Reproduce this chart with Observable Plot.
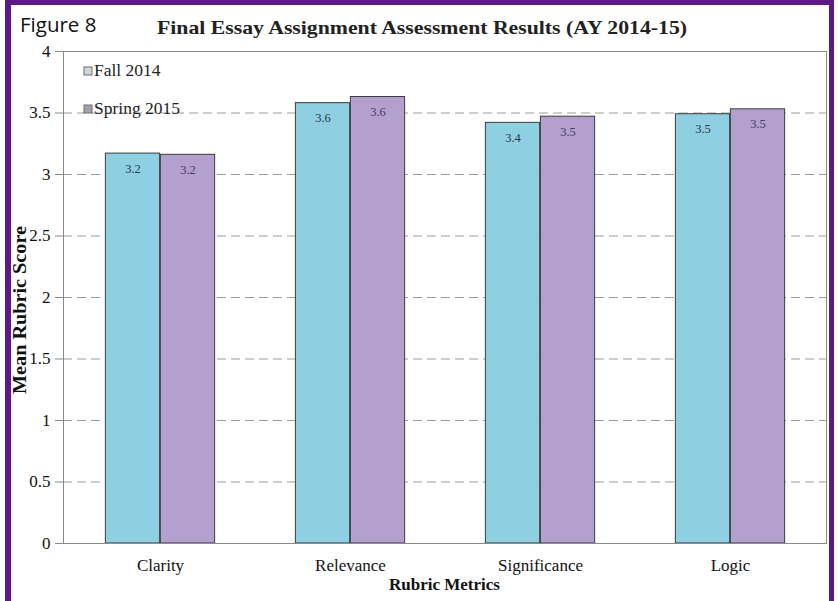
<!DOCTYPE html>
<html>
<head>
<meta charset="utf-8">
<script src="https://cdn.jsdelivr.net/npm/d3@7"></script>
<script src="https://cdn.jsdelivr.net/npm/@observablehq/plot@0.6"></script>
<style>
  html, body { margin: 0; padding: 0; background: #ffffff; }
  #wrap { position: relative; width: 838px; height: 601px; overflow: hidden; }
  #chart svg { display: block; }
  #border {
    position: absolute; left: 5px; top: 0; width: 818px; height: 660px;
    border-left: 6px solid #5e1987; border-top: 5px solid #5e1987; border-right: 5px solid #5e1987;
    pointer-events: none;
  }
  g[aria-label="y-axis tick"] path { stroke: #8a8a8a; }
</style>
</head>
<body>
<div id="wrap">
  <div id="chart"></div>
  <div id="border"></div>
</div>
<script>
// Mean rubric scores per metric, for each term
const categories = ["Clarity", "Relevance", "Significance", "Logic"];
const fall2014 = [3.17, 3.58, 3.42, 3.49];
const spring2015 = [3.16, 3.63, 3.47, 3.53];
const seriesNames = ["Fall 2014", "Spring 2015"];
const seriesColors = ["#8ecfe1", "#b3a0cf"];
const swatchColors = ["#cdd6da", "#a49fac"];
const yTicks = [0, 0.5, 1, 1.5, 2, 2.5, 3, 3.5, 4];

const figureLabel = "Figure 8";
const titleText = "Final Essay Assignment Assessment Results (AY 2014-15)";
const xTitle = "Rubric Metrics";
const yTitle = "Mean Rubric Score";

const fallRows = categories.map((c, i) => ({metric: c, term: seriesNames[0], score: fall2014[i]}));
const springRows = categories.map((c, i) => ({metric: c, term: seriesNames[1], score: spring2015[i]}));

const W = 838, H = 601;
const mL = 63, mR = 12, mT = 51, mB = 58;
const band = (W - mL - mR) / categories.length;
const barW = 55;
const fmt = d3.format(".1f");

const chart = Plot.plot({
  width: W,
  height: H,
  marginLeft: mL,
  marginRight: mR,
  marginTop: mT,
  marginBottom: mB,
  style: {fontFamily: "'Liberation Serif', 'Times New Roman', serif", fontSize: "17px", background: "transparent", color: "#111"},
  x: {domain: categories, padding: 0, tickSize: 0, tickPadding: 15, label: null},
  y: {domain: [0, 4], ticks: yTicks, tickSize: 8, tickPadding: 5, tickFormat: d => String(d), label: null},
  marks: [
    Plot.ruleY(yTicks.filter(t => t > 0 && t < 4), {stroke: "#9d9d9d", strokeDasharray: "9,5", strokeWidth: 1}),
    Plot.barY(fallRows, {x: "metric", y: "score", fill: seriesColors[0], stroke: "#3c3c3c", strokeWidth: 1,
      insetLeft: band / 2 - barW, insetRight: band / 2}),
    Plot.barY(springRows, {x: "metric", y: "score", fill: seriesColors[1], stroke: "#3c3c3c", strokeWidth: 1,
      insetLeft: band / 2, insetRight: band / 2 - barW}),
    Plot.text(fallRows, {x: "metric", y: "score", text: d => fmt(d.score), dx: -barW / 2, dy: 15,
      fontSize: 12.5, fill: "#233a4c"}),
    Plot.text(springRows, {x: "metric", y: "score", text: d => fmt(d.score), dx: barW / 2, dy: 15,
      fontSize: 12.5, fill: "#4a3a5e"}),
    Plot.frame({stroke: "#8a8a8a"})
  ]
});

document.getElementById("chart").appendChild(chart);

// Headings, axis titles and legend drawn into the same SVG
const svg = d3.select(chart);

svg.append("text")
  .attr("x", 20).attr("y", 32)
  .attr("text-anchor", "start")
  .attr("font-family", "'Open Sans', sans-serif")
  .attr("font-size", 20.5)
  .attr("fill", "#111")
  .text(figureLabel);

svg.append("text")
  .attr("x", 157).attr("y", 34)
  .attr("text-anchor", "start")
  .attr("font-family", "'Liberation Serif', serif")
  .attr("font-weight", "bold")
  .attr("font-size", 19.5)
  .attr("textLength", 530)
  .attr("lengthAdjust", "spacingAndGlyphs")
  .attr("fill", "#222")
  .text(titleText);

svg.append("text")
  .attr("x", mL + (W - mL - mR) / 2).attr("y", 590)
  .attr("text-anchor", "middle")
  .attr("font-family", "'Liberation Serif', serif")
  .attr("font-weight", "bold")
  .attr("font-size", 17)
  .attr("fill", "#111")
  .text(xTitle);

svg.append("text")
  .attr("transform", "translate(26,310) rotate(-90)")
  .attr("text-anchor", "middle")
  .attr("font-family", "'Liberation Serif', serif")
  .attr("font-weight", "bold")
  .attr("font-size", 18)
  .attr("textLength", 168)
  .attr("lengthAdjust", "spacingAndGlyphs")
  .attr("fill", "#111")
  .text(yTitle);

const legend = svg.append("g").attr("transform", "translate(84,0)");
seriesNames.forEach((name, i) => {
  const base = i === 0 ? 76 : 114;
  legend.append("rect")
    .attr("x", 0).attr("y", base - 9)
    .attr("width", 8).attr("height", 8)
    .attr("fill", swatchColors[i])
    .attr("stroke", "#6e6e6e").attr("stroke-width", 1);
  legend.append("text")
    .attr("x", 10).attr("y", base)
    .attr("text-anchor", "start")
    .attr("font-family", "'Liberation Serif', serif")
    .attr("font-size", 17.5)
    .attr("fill", "#222")
    .text(name);
});
</script>
</body>
</html>
